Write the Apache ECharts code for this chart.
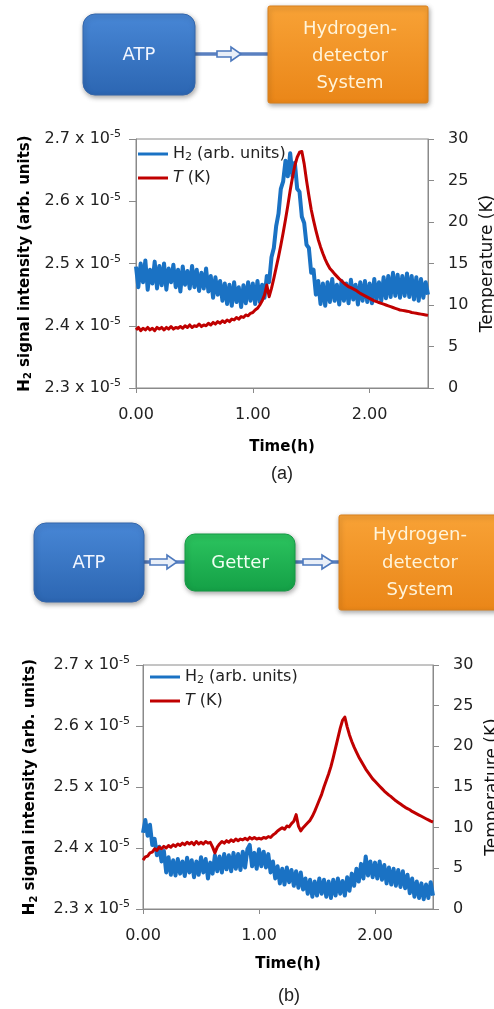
<!DOCTYPE html>
<html>
<head>
<meta charset="utf-8">
<script src="https://cdn.jsdelivr.net/npm/echarts@6/dist/echarts.min.js"></script>
<style>
  html, body { margin: 0; padding: 0; background: #ffffff; }
  #c { width: 494px; height: 1009px; }
</style>
</head>
<body>
<div id="c"></div>
<script>
// ---------- DATA ----------
// Sample times (h) shared by all curves
const timeH = [0.00,0.02,0.04,0.06,0.08,0.10,0.12,0.14,0.16,0.18,0.20,0.22,0.24,0.26,0.28,0.30,0.32,0.34,0.36,0.38,0.40,0.42,0.44,0.46,0.48,0.50,0.52,0.54,0.56,0.58,0.60,0.62,0.64,0.66,0.68,0.70,0.72,0.74,0.76,0.78,0.80,0.82,0.84,0.86,0.88,0.90,0.92,0.94,0.96,0.98,1.00,1.02,1.04,1.06,1.08,1.10,1.12,1.14,1.16,1.18,1.20,1.22,1.24,1.26,1.28,1.30,1.32,1.34,1.36,1.38,1.40,1.42,1.44,1.46,1.48,1.50,1.52,1.54,1.56,1.58,1.60,1.62,1.64,1.66,1.68,1.70,1.72,1.74,1.76,1.78,1.80,1.82,1.84,1.86,1.88,1.90,1.92,1.94,1.96,1.98,2.00,2.02,2.04,2.06,2.08,2.10,2.12,2.14,2.16,2.18,2.20,2.22,2.24,2.26,2.28,2.30,2.32,2.34,2.36,2.38,2.40,2.42,2.44,2.46,2.48,2.50];

// (a) H2 signal, in units of 10^-5 (arb. units)
const h2A = [
  2.495,2.462,2.500,2.470,2.505,2.458,2.490,2.468,2.503,2.460,
  2.496,2.465,2.500,2.458,2.492,2.470,2.498,2.462,2.490,2.455,
  2.495,2.466,2.488,2.460,2.496,2.462,2.490,2.456,2.485,2.460,
  2.492,2.455,2.480,2.445,2.478,2.450,2.472,2.440,2.468,2.435,
  2.466,2.432,2.470,2.438,2.462,2.430,2.465,2.436,2.470,2.440,
  2.468,2.435,2.472,2.438,2.466,2.445,2.480,2.470,2.510,2.525,
  2.560,2.580,2.620,2.632,2.665,2.640,2.677,2.640,2.662,2.620,
  2.615,2.575,2.565,2.530,2.525,2.485,2.490,2.450,2.472,2.435,
  2.468,2.432,2.470,2.438,2.475,2.440,2.466,2.434,2.472,2.440,
  2.468,2.436,2.474,2.442,2.466,2.434,2.470,2.440,2.472,2.438,
  2.468,2.436,2.475,2.442,2.470,2.440,2.478,2.444,2.480,2.446,
  2.485,2.448,2.482,2.445,2.480,2.448,2.484,2.446,2.480,2.442,
  2.478,2.440,2.475,2.445,2.470,2.450];

// (a) Temperature (K)
const tempA = [
  7.0,7.3,6.9,7.2,7.0,7.3,7.0,7.2,6.9,7.3,
  7.1,7.3,7.0,7.3,7.1,7.4,7.1,7.3,7.2,7.4,
  7.2,7.5,7.3,7.6,7.3,7.5,7.4,7.7,7.4,7.6,
  7.5,7.8,7.6,7.9,7.7,8.0,7.8,8.1,7.9,8.2,
  8.0,8.3,8.2,8.5,8.3,8.6,8.5,8.8,8.7,9.0,
  9.1,9.4,9.6,10.0,10.5,11.2,12.4,11.0,12.0,13.2,
  14.5,15.8,17.2,18.7,20.3,22.0,23.8,25.4,26.8,27.8,
  28.4,28.5,27.0,25.0,23.2,21.5,20.2,19.0,17.9,17.0,
  16.2,15.5,14.9,14.4,14.1,13.75,13.45,13.15,12.9,12.65,
  12.4,12.2,12.1,11.95,11.8,11.6,11.4,11.25,11.1,10.95,
  10.8,10.65,10.5,10.4,10.3,10.2,10.1,10.0,9.9,9.8,
  9.7,9.6,9.5,9.4,9.35,9.3,9.25,9.2,9.1,9.05,
  9.0,8.95,8.9,8.85,8.8,8.75];

// (b) H2 signal, in units of 10^-5 (arb. units)
const h2B = [
  2.425,2.446,2.420,2.438,2.405,2.415,2.388,2.402,2.378,2.395,
  2.360,2.385,2.356,2.380,2.355,2.382,2.358,2.378,2.354,2.384,
  2.360,2.380,2.352,2.378,2.356,2.385,2.360,2.382,2.350,2.376,
  2.358,2.388,2.362,2.386,2.360,2.390,2.365,2.388,2.362,2.392,
  2.366,2.390,2.364,2.394,2.368,2.398,2.405,2.370,2.392,2.366,
  2.398,2.370,2.394,2.368,2.390,2.360,2.378,2.350,2.370,2.342,
  2.366,2.340,2.368,2.344,2.364,2.338,2.362,2.335,2.360,2.332,
  2.350,2.325,2.348,2.320,2.345,2.322,2.350,2.325,2.348,2.320,
  2.345,2.318,2.348,2.322,2.350,2.325,2.346,2.322,2.352,2.330,
  2.358,2.338,2.366,2.345,2.374,2.350,2.386,2.355,2.378,2.352,
  2.376,2.350,2.378,2.348,2.372,2.342,2.368,2.340,2.366,2.338,
  2.364,2.336,2.362,2.334,2.356,2.326,2.350,2.320,2.345,2.318,
  2.342,2.316,2.340,2.318,2.344,2.322];

// (b) Temperature (K)
const tempB = [
  6.0,6.4,6.5,6.9,7.0,7.4,7.2,7.6,7.4,7.7,
  7.5,7.8,7.6,7.9,7.7,8.0,7.8,8.1,7.9,8.2,
  8.0,8.2,7.9,8.3,8.0,8.2,8.0,8.3,8.1,8.2,
  7.6,6.9,7.6,8.0,8.3,8.1,8.4,8.2,8.5,8.3,
  8.6,8.4,8.6,8.5,8.7,8.5,8.8,8.6,8.8,8.6,
  8.7,8.6,8.8,8.7,8.9,8.8,9.1,9.3,9.6,9.8,
  10.0,9.8,10.2,10.1,10.5,10.8,11.6,10.2,9.6,10.0,
  10.3,10.6,10.9,11.4,12.0,12.7,13.4,14.1,15.0,15.8,
  16.6,17.5,18.6,19.8,21.0,22.2,23.2,23.6,22.4,21.4,
  20.6,19.9,19.3,18.7,18.2,17.7,17.2,16.8,16.4,16.0,
  15.7,15.4,15.1,14.8,14.5,14.25,14.0,13.8,13.55,13.3,
  13.1,12.9,12.7,12.5,12.35,12.2,12.0,11.85,11.7,11.55,
  11.4,11.25,11.1,10.95,10.8,10.7];

// Tick values
const xTicks = [0, 1, 2];
const h2Ticks = [2.3, 2.4, 2.5, 2.6, 2.7];
const tempTicks = [0, 5, 10, 15, 20, 25, 30];

// Diagram labels
const diagramA = ['ATP', 'Hydrogen-', 'detector', 'System'];
const diagramB = ['ATP', 'Getter', 'Hydrogen-', 'detector', 'System'];

// ---------- STYLE ----------
const FONT = '"DejaVu Sans", sans-serif';
const AX = '#8a8a8a';
const TXT = '#222222';
const BLUE = '#1a72c4';
const RED = '#c00000';

const tickRich = {
  m: { fontFamily: FONT, fontSize: 16, color: TXT, lineHeight: 20 },
  s: { fontFamily: FONT, fontSize: 11, color: TXT, lineHeight: 11, verticalAlign: 'top' }
};
const legendRich = {
  n: { fontFamily: FONT, fontSize: 16, color: TXT, lineHeight: 18 },
  sub: { fontFamily: FONT, fontSize: 11, color: TXT, lineHeight: 10, verticalAlign: 'bottom' },
  it: { fontFamily: FONT, fontSize: 16, color: TXT, lineHeight: 18, fontStyle: 'italic' }
};
const nameRich = {
  b: { fontFamily: FONT, fontSize: 15, fontWeight: 'bold', color: '#000', lineHeight: 18 },
  sb: { fontFamily: FONT, fontSize: 10, fontWeight: 'bold', color: '#000', lineHeight: 10, verticalAlign: 'bottom' }
};

function xAxisFor(g, gap) {
  return {
    type: 'value', gridIndex: g, min: 0, max: 2.5, interval: 1,
    axisLine: { show: true, lineStyle: { color: AX, width: 1 } },
    axisTick: { show: true, length: 5, customValues: xTicks, lineStyle: { color: AX } },
    axisLabel: { customValues: xTicks, formatter: v => Number(v).toFixed(2), margin: 19,
      fontFamily: FONT, fontSize: 16, color: TXT },
    splitLine: { show: false },
    name: 'Time(h)', nameLocation: 'middle', nameGap: gap,
    nameTextStyle: { fontFamily: FONT, fontSize: 15, fontWeight: 'bold', color: '#000' }
  };
}
function leftAxisFor(g, gap, margin) {
  return {
    type: 'value', gridIndex: g, position: 'left', min: 2.3, max: 2.7, interval: 0.1,
    axisLine: { show: true, lineStyle: { color: AX, width: 1 } },
    axisTick: { show: true, length: 7, customValues: h2Ticks, lineStyle: { color: AX } },
    axisLabel: { customValues: h2Ticks, margin: margin,
      formatter: v => '{m|' + Number(v).toFixed(1) + ' x 10}{s|-5}', rich: tickRich },
    splitLine: { show: false },
    name: '{b|H}{sb|2}{b| signal intensity (arb. units)}',
    nameLocation: 'middle', nameRotate: 90, nameGap: gap,
    nameTextStyle: { rich: nameRich }
  };
}
function rightAxisFor(g, gap) {
  return {
    type: 'value', gridIndex: g, position: 'right', min: 0, max: 30, interval: 5,
    axisLine: { show: true, lineStyle: { color: AX, width: 1 } },
    axisTick: { show: true, length: 6, customValues: tempTicks, lineStyle: { color: AX } },
    axisLabel: { customValues: tempTicks, margin: 20, fontFamily: FONT, fontSize: 16, color: TXT },
    splitLine: { show: false },
    name: 'Temperature (K)', nameLocation: 'middle', nameRotate: 90, nameGap: gap,
    nameTextStyle: { fontFamily: FONT, fontSize: 17, color: '#111' }
  };
}
function legendFor(names, left, top) {
  return {
    data: names, orient: 'vertical', left: left, top: top, padding: 0,
    itemWidth: 30, itemHeight: 3, itemGap: 7, icon: 'rect', selectedMode: false,
    formatter: n => n.indexOf('H2') === 0 ? '{n|H}{sub|2}{n| (arb. units)}' : '{it|T}{n| (K)}',
    textStyle: { rich: legendRich }
  };
}
function lineSeries(name, xi, yi, ys, color, width, z) {
  return {
    name: name, type: 'line', xAxisIndex: xi, yAxisIndex: yi,
    data: timeH.map((t, i) => [t, ys[i]]),
    symbol: 'none', showSymbol: false, z: z,
    lineStyle: { color: color, width: width, join: 'round' }, itemStyle: { color: color }
  };
}

// ---------- DIAGRAM GRAPHICS ----------
function grad(c1, c2) {
  return { type: 'linear', x: 0, y: 0, x2: 0, y2: 1, colorStops: [{ offset: 0, color: c1 }, { offset: 1, color: c2 }] };
}
const shadow = { shadowBlur: 5, shadowOffsetX: 1, shadowOffsetY: 2, shadowColor: 'rgba(0,0,0,0.35)' };
function box(x, y, w, h, r, c1, c2, stroke) {
  return { type: 'rect', shape: { x: x, y: y, width: w, height: h, r: r },
    style: Object.assign({ fill: grad(c1, c2), stroke: stroke, lineWidth: 1 }, shadow), z: 10 };
}
function label(text, x, y, color) {
  return { type: 'text', x: x, y: y, z: 12,
    style: { text: text, font: '18px ' + FONT, fill: color, align: 'center', verticalAlign: 'middle' } };
}
function connector(x1, x2, y) {
  return { type: 'line', shape: { x1: x1, y1: y, x2: x2, y2: y }, z: 9,
    style: { stroke: '#5a80c0', lineWidth: 3.5 } };
}
function arrow(x0, xm, x1, y) {
  return { type: 'polygon', z: 11,
    shape: { points: [[x0, y - 3], [xm, y - 3], [xm, y - 7], [x1, y], [xm, y + 7], [xm, y + 3], [x0, y + 3]] },
    style: { fill: '#e9eff8', stroke: '#4d79bd', lineWidth: 1.6 } };
}
const BLUE1 = '#4887d6', BLUE2 = '#2c66b2', BLUES = '#3466ab';
const OR1 = '#f8a236', OR2 = '#ea8618', ORS = '#d9801c';
const GR1 = '#2cc45f', GR2 = '#14a046', GRS = '#149a44';
const CREAM = '#fff4da';

const graphics = [
  // (a) diagram
  connector(195, 268, 54),
  box(83, 14, 112, 81, 12, BLUE1, BLUE2, BLUES),
  box(268, 6, 160, 97, 2, OR1, OR2, ORS),
  arrow(217, 231, 241, 54),
  label(diagramA[0], 139, 55, '#f2f6ff'),
  label(diagramA[1], 350, 29, CREAM),
  label(diagramA[2], 350, 56, CREAM),
  label(diagramA[3], 350, 83, CREAM),
  // (b) diagram
  connector(144, 185, 562),
  connector(295, 339, 562),
  box(34, 523, 110, 79, 12, BLUE1, BLUE2, BLUES),
  box(185, 534, 110, 57, 10, GR1, GR2, GRS),
  box(339, 515, 170, 95, 2, OR1, OR2, ORS),
  arrow(150, 167, 177, 562),
  arrow(303, 322, 333, 562),
  label(diagramB[0], 89, 563, '#f2f6ff'),
  label(diagramB[1], 240, 563, '#effff2'),
  label(diagramB[2], 420, 535, CREAM),
  label(diagramB[3], 420, 563, CREAM),
  label(diagramB[4], 420, 590, CREAM),
  // captions
  { type: 'text', x: 282, y: 474, z: 12, style: { text: '(a)', font: '18px "Liberation Sans", Arial, sans-serif', fill: TXT, align: 'center', verticalAlign: 'middle' } },
  { type: 'text', x: 289, y: 996, z: 12, style: { text: '(b)', font: '18px "Liberation Sans", Arial, sans-serif', fill: TXT, align: 'center', verticalAlign: 'middle' } }
];

// ---------- CHART ----------
const chart = echarts.init(document.getElementById('c'), null, { renderer: 'canvas' });
chart.setOption({
  animation: false,
  backgroundColor: '#ffffff',
  textStyle: { fontFamily: FONT },
  grid: [
    { left: 136, top: 139, width: 292, height: 249, show: true, borderColor: AX, borderWidth: 1, containLabel: false, outerBoundsMode: 'none' },
    { left: 143, top: 665, width: 290, height: 244, show: true, borderColor: AX, borderWidth: 1, containLabel: false, outerBoundsMode: 'none' }
  ],
  xAxis: [xAxisFor(0, 52), xAxisFor(1, 48)],
  yAxis: [leftAxisFor(0, 101, 15), rightAxisFor(0, 47), leftAxisFor(1, 104, 13), rightAxisFor(1, 51)],
  legend: [legendFor(['H2a', 'Ta'], 138, 146), legendFor(['H2b', 'Tb'], 150, 669)],
  series: [
    lineSeries('H2a', 0, 0, h2A, BLUE, 4, 2),
    lineSeries('Ta', 0, 1, tempA, RED, 3, 3),
    lineSeries('H2b', 1, 2, h2B, BLUE, 4, 2),
    lineSeries('Tb', 1, 3, tempB, RED, 3, 3)
  ],
  graphic: { elements: graphics }
});
</script>
</body>
</html>
